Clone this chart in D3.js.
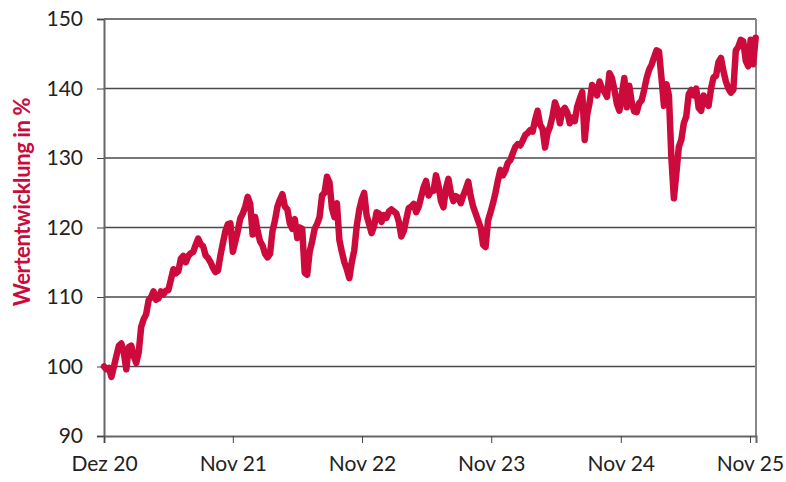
<!DOCTYPE html>
<html>
<head>
<meta charset="utf-8">
<script src="https://cdn.jsdelivr.net/npm/d3@7"></script>
<style>
  body { margin: 0; background: #fff; }
  svg { display: block; }
</style>
</head>
<body>
<svg id="chart" width="786" height="482"></svg>
<script>
// series: one value per week, starting 1 Dec 2020 (index = 100)
const startDate = new Date(2020, 11, 1)
const stepDays = 7
const values = [
  100.0, 99.6, 99.8, 98.5, 100.0, 101.5, 103.0, 103.3, 102.0, 99.6,
  102.8, 103.0, 101.5, 100.5, 102.0, 105.7, 106.8, 107.5, 109.5, 110.0,
  110.8, 109.6, 109.8, 110.8, 110.4, 110.9, 111.0, 112.5, 114.0, 113.4,
  113.7, 115.5, 115.9, 115.0, 115.9, 116.3, 116.5, 117.5, 118.4, 117.6,
  117.3, 116.0, 115.6, 115.0, 114.2, 113.6, 113.8, 116.0, 117.8, 119.5,
  120.5, 120.6, 116.5, 118.0, 119.5, 121.3, 122.0, 123.0, 124.4, 123.4,
  119.0, 121.5, 119.5, 118.0, 117.4, 116.2, 115.7, 116.2, 119.5, 121.0,
  123.0, 124.0, 124.8, 123.0, 122.6, 120.6, 119.8, 121.2, 118.5, 120.0,
  119.8, 113.5, 113.2, 116.5, 118.0, 119.8, 120.5, 121.5, 124.6, 125.0,
  127.3, 126.5, 122.8, 121.5, 123.5, 118.2, 116.5, 115.0, 114.0, 112.7,
  115.0, 116.7, 120.2, 122.5, 124.0, 125.0, 121.7, 120.5, 119.2, 120.2,
  122.2, 122.0, 120.8, 121.8, 121.4, 122.3, 122.6, 122.3, 122.0, 120.8,
  118.7, 119.5, 121.2, 122.8, 123.0, 123.4, 122.2, 123.0, 124.4, 125.8,
  126.7, 124.6, 125.3, 125.3, 127.5, 126.0, 123.8, 122.9, 125.6, 127.0,
  125.0, 123.8, 124.5, 124.3, 123.5, 124.6, 125.5, 126.6, 124.5, 123.0,
  122.0, 121.0, 120.0, 117.5, 117.2, 121.0, 122.2, 123.5, 125.0, 126.8,
  128.3, 127.5, 128.2, 129.3, 129.7, 130.7, 131.6, 132.0, 131.8, 132.5,
  133.3, 133.6, 134.0, 133.8, 135.5, 136.8, 134.8, 134.2, 131.5, 133.6,
  134.5, 136.0, 138.0, 137.0, 135.0, 136.8, 137.2, 136.5, 135.0, 135.8,
  135.3, 137.4, 138.5, 139.5, 132.6, 136.2, 138.0, 140.5, 140.0, 139.0,
  141.0, 140.0, 139.5, 138.8, 142.2, 141.5, 139.8, 137.8, 136.8, 139.2,
  141.5, 137.3, 140.4, 138.0, 136.7, 136.6, 137.9, 138.3, 139.8, 141.5,
  142.7, 143.4, 144.5, 145.5, 145.3, 141.5, 137.5, 140.6, 139.0, 130.0,
  124.2, 127.8, 131.6, 132.6, 135.0, 136.0, 139.2, 139.8, 139.0, 140.0,
  137.2, 136.8, 139.0, 138.0, 137.5, 140.0, 141.6, 141.8, 143.8, 144.4,
  142.5, 141.0, 140.0, 139.4, 139.8, 145.5, 146.0, 147.0, 146.8, 144.0,
  143.2, 147.0, 143.5, 147.3
]

// x ticks sit at the end of November, first one on the start date
const xTickDates = [
  new Date(2020, 11, 1), new Date(2021, 10, 30), new Date(2022, 10, 30),
  new Date(2023, 10, 30), new Date(2024, 10, 30), new Date(2025, 10, 30)
]
const xTickLabels = ["Dez 20", "Nov 21", "Nov 22", "Nov 23", "Nov 24", "Nov 25"]
const yTicks = [90, 100, 110, 120, 130, 140, 150]
const yLabel = "Wertentwicklung in %"

const font = "Lato, 'Open Sans', sans-serif"
const lineColor = "#cc0a3c"
const svg = d3.select("#chart")
const margin = { left: 104, right: 30, top: 19, bottom: 46 }
const width = 786 - margin.left - margin.right
const height = 482 - margin.top - margin.bottom

const data = values.map((v, i) => ({ date: d3.timeDay.offset(startDate, i * stepDays), value: v }))

const x = d3.scaleTime()
  .domain([startDate, new Date(2025, 11, 17)])
  .range([0, width])
const y = d3.scaleLinear().domain([90, 150]).range([height, 0])

const g = svg.append("g").attr("transform", `translate(${margin.left},${margin.top})`)

// horizontal grid lines
g.append("g")
  .selectAll("line")
  .data(yTicks.slice(1))
  .join("line")
  .attr("x1", 0)
  .attr("x2", width)
  .attr("y1", d => y(d))
  .attr("y2", d => y(d))
  .attr("stroke", "#4a4a4a")
  .attr("stroke-width", 1.3)

// right border
g.append("line")
  .attr("x1", width).attr("x2", width)
  .attr("y1", 0).attr("y2", height)
  .attr("stroke", "#888").attr("stroke-width", 2)

// y axis
const yAxis = g.append("g")
  .call(d3.axisLeft(y).tickValues(yTicks).tickSize(7).tickPadding(14))
yAxis.attr("font-family", font)
yAxis.select(".domain").attr("stroke", "#666").attr("stroke-width", 2)
yAxis.selectAll(".tick line").attr("stroke", "#444")
yAxis.selectAll("text").attr("font-size", 21).attr("fill", "#222")

// x axis
const xAxis = g.append("g")
  .attr("transform", `translate(0,${height})`)
  .call(d3.axisBottom(x).tickValues(xTickDates).tickSize(7).tickPadding(13)
    .tickFormat((d, i) => xTickLabels[i]))
xAxis.attr("font-family", font)
xAxis.select(".domain").attr("stroke", "#666").attr("stroke-width", 2)
xAxis.selectAll(".tick line").attr("stroke", "#444")
xAxis.selectAll("text").attr("font-size", 21).attr("fill", "#222")

// the line itself
const line = d3.line()
  .x(d => x(d.date))
  .y(d => y(d.value))

g.append("path")
  .datum(data)
  .attr("fill", "none")
  .attr("stroke", lineColor)
  .attr("stroke-width", 6.5)
  .attr("stroke-linejoin", "round")
  .attr("stroke-linecap", "round")
  .attr("d", line)

// y axis title
svg.append("text")
  .attr("transform", "translate(30,202) rotate(-90)")
  .attr("text-anchor", "middle")
  .attr("font-family", font)
  .attr("font-size", 22)
  .attr("font-weight", "bold")
  .attr("letter-spacing", -0.4)
  .attr("fill", lineColor)
  .text(yLabel)
</script>
</body>
</html>
